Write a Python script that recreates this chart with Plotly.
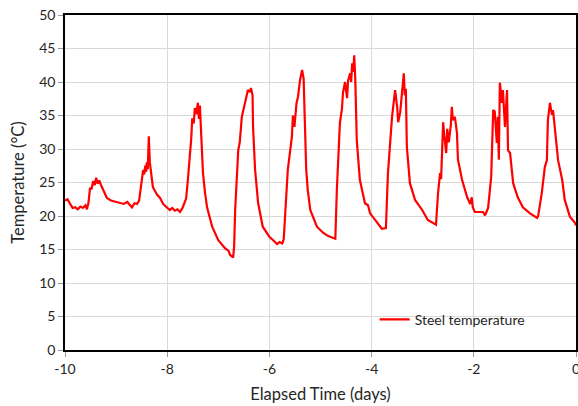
import plotly.graph_objects as go

# Elapsed time (days) and steel temperature (°C)
elapsed_days = [
    -10.00, -9.95, -9.90, -9.85, -9.80, -9.75, -9.70, -9.65, -9.60, -9.57,
    -9.54, -9.51, -9.48, -9.45, -9.42, -9.39, -9.36, -9.33, -9.30, -9.25,
    -9.18, -9.10, -9.00, -8.92, -8.85, -8.78, -8.72, -8.69, -8.64, -8.59,
    -8.55, -8.53, -8.50, -8.47, -8.45, -8.43, -8.41, -8.40, -8.38, -8.36,
    -8.34, -8.32, -8.28, -8.20, -8.14, -8.08, -8.00, -7.95, -7.90, -7.85,
    -7.80, -7.75, -7.70, -7.67, -7.63, -7.60, -7.58, -7.55, -7.53, -7.51,
    -7.48, -7.46, -7.43, -7.40, -7.38, -7.36, -7.34, -7.32, -7.30, -7.26,
    -7.22, -7.12, -7.00, -6.87, -6.80, -6.77, -6.71, -6.69, -6.67, -6.61,
    -6.58, -6.54, -6.48, -6.45, -6.42, -6.38, -6.36, -6.33, -6.32, -6.28,
    -6.22, -6.13, -6.00, -5.90, -5.85, -5.80, -5.75, -5.72, -5.70, -5.64,
    -5.56, -5.54, -5.51, -5.47, -5.44, -5.40, -5.36, -5.33, -5.31, -5.28,
    -5.25, -5.20, -5.07, -4.95, -4.85, -4.75, -4.71, -4.68, -4.62, -4.58,
    -4.56, -4.52, -4.48, -4.46, -4.42, -4.40, -4.38, -4.36, -4.34, -4.32,
    -4.29, -4.23, -4.13, -4.07, -4.03, -3.89, -3.80, -3.72, -3.68, -3.60,
    -3.54, -3.50, -3.48, -3.44, -3.40, -3.37, -3.35, -3.33, -3.31, -3.25,
    -3.15, -3.01, -2.90, -2.80, -2.74, -2.70, -2.66, -2.64, -2.60, -2.58,
    -2.54, -2.52, -2.49, -2.45, -2.43, -2.41, -2.37, -2.33, -2.31, -2.23,
    -2.13, -2.07, -2.04, -2.02, -1.98, -1.82, -1.78, -1.72, -1.66, -1.62,
    -1.59, -1.55, -1.53, -1.51, -1.49, -1.45, -1.43, -1.39, -1.35, -1.33,
    -1.29, -1.23, -1.14, -1.04, -0.90, -0.76, -0.74, -0.67, -0.61, -0.57,
    -0.55, -0.51, -0.47, -0.45, -0.41, -0.37, -0.35, -0.27, -0.22, -0.12,
    -0.02, 0.00,
]
steel_temperature = [
    22.3, 22.5, 21.8, 21.2, 21.3, 21.0, 21.4, 21.2, 21.6, 21.0,
    22.0, 24.2, 24.0, 25.2, 24.6, 25.7, 24.8, 25.3, 24.7, 23.8,
    22.7, 22.3, 22.1, 22.0, 21.8, 22.1, 21.5, 21.3, 21.9, 21.8,
    22.3, 23.4, 25.5, 26.9, 26.2, 27.5, 26.6, 28.0, 27.0, 31.9,
    28.0, 26.5, 24.3, 23.2, 22.7, 21.8, 21.2, 20.9, 21.2, 20.8,
    21.0, 20.6, 21.2, 21.8, 22.6, 25.0, 26.8, 29.8, 31.5, 34.6,
    33.8, 36.1, 35.2, 36.9, 34.5, 36.5, 33.3, 31.3, 26.4, 23.5,
    21.3, 18.4, 16.4, 15.2, 14.8, 14.2, 13.8, 15.5, 20.9, 29.8,
    31.0, 34.8, 36.9, 37.5, 38.8, 38.5, 39.1, 38.0, 33.3, 26.9,
    21.9, 18.4, 16.9, 16.2, 15.8, 16.1, 15.9, 16.5, 19.4, 26.9,
    31.8, 35.0, 33.3, 36.8, 37.8, 40.3, 41.8, 40.5, 35.0, 27.0,
    23.9, 20.9, 18.4, 17.5, 17.0, 16.7, 16.6, 23.9, 33.9, 36.0,
    38.4, 40.0, 37.6, 40.2, 41.3, 40.0, 42.8, 41.5, 44.0, 40.5,
    31.3, 25.4, 21.9, 21.6, 20.4, 19.0, 18.1, 18.2, 26.4, 34.8,
    38.8, 36.3, 34.0, 35.5, 38.4, 41.3, 38.0, 39.0, 30.3, 24.9,
    22.4, 20.9, 19.4, 19.0, 18.7, 23.4, 26.4, 25.5, 34.0, 32.2,
    29.4, 33.0, 31.0, 33.5, 36.3, 34.3, 34.8, 32.4, 28.4, 25.4,
    22.8, 21.8, 22.8, 21.3, 20.6, 20.6, 20.1, 21.2, 25.8, 35.8,
    35.6, 30.9, 34.8, 28.4, 39.9, 36.9, 38.8, 33.3, 38.8, 29.8,
    29.4, 24.9, 22.8, 21.3, 20.4, 19.7, 20.0, 23.4, 27.3, 28.3,
    34.3, 36.9, 35.1, 35.8, 32.8, 29.8, 28.3, 25.4, 22.4, 19.9,
    19.0, 18.6,
]

x_ticks = [-10, -8, -6, -4, -2, 0]
x_tick_labels = ["-10", "-8", "-6", "-4", "-2", "0"]
y_ticks = [0, 5, 10, 15, 20, 25, 30, 35, 40, 45, 50]

font_family = "Lato, 'Open Sans', sans-serif"
text_color = "#262626"

fig = go.Figure()
fig.add_trace(go.Scatter(
    x=elapsed_days, y=steel_temperature, mode="lines",
    name="Steel temperature",
    line=dict(color="#FF0000", width=2.2),
))

fig.update_layout(
    width=578, height=406,
    margin=dict(l=65, r=2, t=15, b=56),
    paper_bgcolor="white", plot_bgcolor="white",
    font=dict(family=font_family, size=14, color=text_color),
    showlegend=True,
    legend=dict(
        x=0.606, y=0.09, xanchor="left", yanchor="middle",
        bgcolor="rgba(255,255,255,0)", borderwidth=0,
        font=dict(family=font_family, size=14, color=text_color),
        itemwidth=30,
    ),
)
fig.update_xaxes(
    range=[-10, 0], tickvals=x_ticks, ticktext=x_tick_labels,
    showgrid=True, gridcolor="#d9d9d9", gridwidth=1,
    showline=True, linecolor="black", linewidth=1.5, mirror=True,
    ticks="outside", ticklen=5, tickcolor="#999999",
    zeroline=False, automargin=False, ticklabeloverflow="allow",
    tickfont=dict(size=14, color=text_color),
    title=dict(text="Elapsed Time (days)", font=dict(size=16.5, color=text_color), standoff=13),
)
fig.update_yaxes(
    range=[0, 50], tickvals=y_ticks,
    showgrid=True, gridcolor="#d9d9d9", gridwidth=1,
    showline=True, linecolor="black", linewidth=1.5, mirror=True,
    ticks="outside", ticklen=5, tickcolor="#999999",
    zeroline=False, automargin=False, ticklabeloverflow="allow",
    tickfont=dict(size=14, color=text_color),
    title=dict(text="Temperature (°C)", font=dict(size=16.5, color=text_color), standoff=10),
)

# remove the browser's default body margin so the figure fills the window exactly
fig.write_html(
    "out.html",
    config={"displayModeBar": False},
    post_script="document.body.style.margin='0';",
)
